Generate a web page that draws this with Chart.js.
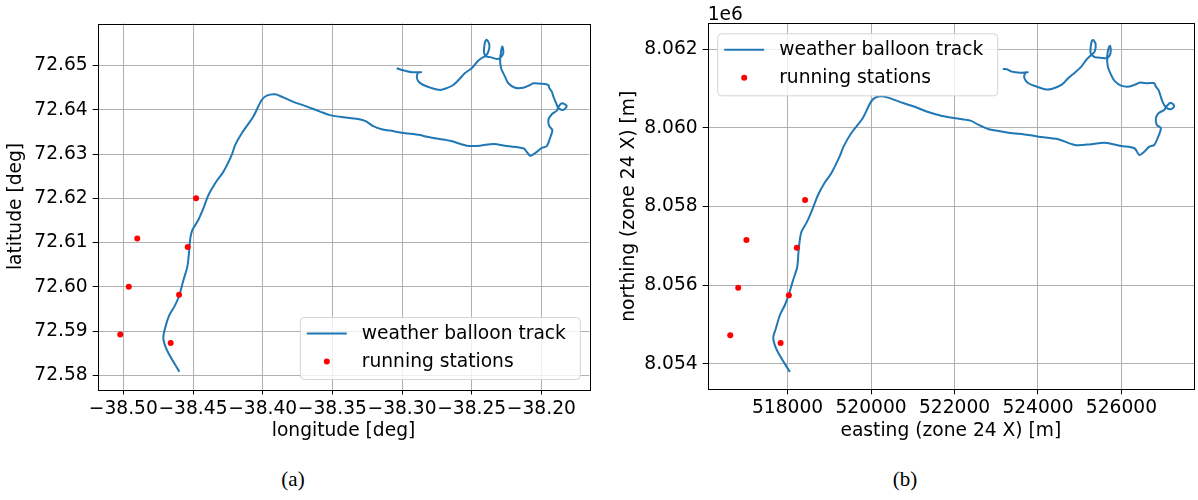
<!DOCTYPE html>
<html>
<head>
<meta charset="utf-8">
<script src="https://cdn.jsdelivr.net/npm/chart.js@4.4.1/dist/chart.umd.min.js"></script>
<style>
  body { margin: 0; background: #fff; width: 1198px; height: 500px; position: relative; overflow: hidden; }
  .panel { position: absolute; top: 0; width: 599px; height: 460px; }
  .cap { position: absolute; top: 467px; width: 60px; text-align: center; font-family: "Liberation Serif", "DejaVu Serif", serif; font-size: 21px; color: #000; }
</style>
</head>
<body>
<div class="panel" style="left:0"><canvas id="chartA"></canvas></div>
<div class="panel" style="left:599px"><canvas id="chartB"></canvas></div>
<div class="cap" style="left:263px">(a)</div>
<div class="cap" style="left:875px">(b)</div>

<script>
// ---------------- data, panel (a): lon / lat in degrees ---------------- //
var trackLon = [-38.4598,-38.4684,-38.4713,-38.4701,-38.4670,-38.4629,-38.4598,-38.4569,-38.4541,-38.4528,
  -38.4521,-38.4505,-38.4462,-38.4426,-38.4390,-38.4335,-38.4282,-38.4222,-38.4198,-38.4150,
  -38.4067,-38.4007,-38.3971,-38.3911,-38.3852,-38.3780,-38.3696,-38.3588,-38.3517,-38.3421,
  -38.3325,-38.3265,-38.3206,-38.3145,-38.3086,-38.3002,-38.2871,-38.2822,-38.2655,-38.2535,
  -38.2440,-38.2344,-38.2248,-38.2129,-38.2098,-38.2076,-38.2033,-38.1997,-38.1961,-38.1938,
  -38.1921,-38.1943,-38.1950,-38.1925,-38.1889,-38.1878,-38.1854,-38.1818,-38.1842,-38.1878,
  -38.1894,-38.1914,-38.1925,-38.1943,-38.1950,-38.1997,-38.2057,-38.2081,-38.2129,-38.2189,
  -38.2237,-38.2261,-38.2289,-38.2296,-38.2289,-38.2280,-38.2273,-38.2296,-38.2320,-38.2368,
  -38.2392,-38.2411,-38.2404,-38.2392,-38.2373,-38.2380,-38.2399,-38.2428,-38.2459,-38.2500,
  -38.2548,-38.2589,-38.2632,-38.2679,-38.2727,-38.2787,-38.2847,-38.2883,-38.2894,-38.2883,
  -38.2863,-38.2930,-38.3002,-38.3038];
var trackLat = [72.5808,72.5855,72.5883,72.5906,72.5936,72.5958,72.5981,72.6015,72.6045,72.6079,
  72.6106,72.6128,72.6151,72.6177,72.6207,72.6237,72.6260,72.6298,72.6320,72.6347,
  72.6385,72.6422,72.6432,72.6435,72.6428,72.6418,72.6409,72.6396,72.6388,72.6383,
  72.6380,72.6375,72.6363,72.6356,72.6353,72.6348,72.6343,72.6339,72.6330,72.6319,
  72.6319,72.6323,72.6318,72.6313,72.6302,72.6296,72.6305,72.6314,72.6318,72.6336,
  72.6354,72.6363,72.6377,72.6390,72.6398,72.6406,72.6415,72.6409,72.6400,72.6404,
  72.6415,72.6430,72.6441,72.6449,72.6456,72.6459,72.6460,72.6456,72.6450,72.6450,
  72.6460,72.6475,72.6494,72.6513,72.6532,72.6543,72.6528,72.6517,72.6515,72.6519,
  72.6520,72.6528,72.6554,72.6558,72.6547,72.6532,72.6522,72.6517,72.6509,72.6494,
  72.6483,72.6469,72.6456,72.6449,72.6445,72.6449,72.6456,72.6464,72.6475,72.6484,
  72.6485,72.6485,72.6490,72.6494];
var stationLon = [-38.4478,-38.4900,-38.4538,-38.4961,-38.4600,-38.5022,-38.4660];
var stationLat = [72.6200,72.6109,72.6090,72.6000,72.5982,72.5892,72.5873];

var lonTicks = [-38.50,-38.45,-38.40,-38.35,-38.30,-38.25,-38.20];
var latTicks = [72.58,72.59,72.60,72.61,72.62,72.63,72.64,72.65];

// ---------------- data, panel (b): UTM zone 24 X in metres ---------------- //
var trackEast = [518055,517752,517657,517721,517817,517936,518038,518133,518229,518262,
  518293,518333,518467,518595,518729,518888,519048,519245,519341,519524,
  519800,520000,520119,520317,520674,520991,521388,521705,522024,522381,
  522579,522817,523055,523293,523769,524007,524484,524881,525276,525595,
  525991,526310,526429,526548,526667,526786,526865,526943,526848,526824,
  526888,527024,527086,527181,527262,527181,527062,526983,526929,526888,
  526824,526786,526626,526429,526348,526191,525991,525833,525753,525674,
  525657,525691,525729,525738,525674,525595,525436,525357,525262,525276,
  525317,525381,525357,525276,525157,525038,524881,524722,524562,524324,
  524167,523967,523769,523674,523691,523752,523572,523372,523253,523157];
var trackNorth = [8053789,8054331,8054646,8054901,8055239,8055494,8055792,8056130,8056453,8056850,
  8057148,8057359,8057614,8057929,8058293,8058606,8058846,8059268,8059523,8059864,
  8060245,8060668,8060780,8060795,8060668,8060558,8060398,8060304,8060245,8060184,
  8060075,8059965,8059922,8059879,8059820,8059777,8059711,8059566,8059584,8059624,
  8059541,8059482,8059311,8059395,8059523,8059566,8059736,8059991,8060075,8060245,
  8060373,8060457,8060558,8060642,8060558,8060474,8060525,8060668,8060838,8060966,
  8061050,8061136,8061136,8061151,8061111,8061050,8061075,8061195,8061347,8061559,
  8061813,8062027,8062086,8061900,8061788,8061772,8061788,8061798,8061900,8062154,
  8062238,8062136,8061940,8061856,8061729,8061559,8061406,8061263,8061093,8060991,
  8060984,8061050,8061136,8061263,8061391,8061416,8061406,8061431,8061492,8061500];
var stationEast = [518419,517014,518221,516817,518031,516626,517833];
var stationNorth = [8058166,8057148,8056952,8055934,8055741,8054723,8054527];

var eastTicks = [518000,520000,522000,524000,526000];
var northTicks = [8054000,8056000,8058000,8060000,8062000];

var trackLabel = "weather balloon track";
var stationLabel = "running stations";

// ---------------- helpers ---------------- //
var FONT = "'DejaVu Sans', sans-serif";
var FSIZE = 18.67;   // 14pt
var trackColor = '#1f77b4';
var stationColor = '#ff0000';

function toPoints(xs, ys) {
  var pts = [];
  for (var i = 0; i < xs.length; i++) {
    pts.push({x: xs[i], y: ys[i]});
  }
  return pts;
}

function fixedTicks(list) {       // put ticks exactly where matplotlib had them
  return function(scale) {
    scale.ticks = list.map(function(v) { return {value: v}; });
  };
}

function fixedSize(prop, size) {
  return function(scale) { scale[prop] = size; };
}

// axes frame, in-axes legend and offset text
var framePlugin = {
  id: 'frame',
  afterDraw: function(chart, args, opts) {
    var ctx = chart.ctx;
    var a = chart.chartArea;
    ctx.save();
    ctx.strokeStyle = '#000';
    ctx.lineWidth = 1;
    ctx.strokeRect(Math.round(a.left) + 0.5, Math.round(a.top) + 0.5,
      Math.round(a.right - a.left), Math.round(a.bottom - a.top));

    // legend box
    var w = 280, h = 62;
    var bx = opts.corner == 'br' ? a.right - 9.5 - w : a.left + 9.5;
    var by = opts.corner == 'br' ? a.bottom - 10.5 - h : a.top + 10;
    ctx.beginPath();
    ctx.roundRect(bx + 0.5, by + 0.5, w, h, 4);
    ctx.fillStyle = 'rgba(255,255,255,0.8)';
    ctx.fill();
    ctx.strokeStyle = '#d4d4d4';
    ctx.stroke();

    var sets = chart.data.datasets;
    ctx.font = FSIZE + 'px ' + FONT;
    ctx.textBaseline = 'middle';
    ctx.fillStyle = '#000';
    // row 1: line sample
    ctx.beginPath();
    ctx.moveTo(bx + 7, by + 16.5);
    ctx.lineTo(bx + 47, by + 16.5);
    ctx.strokeStyle = sets[1].borderColor;
    ctx.lineWidth = 2;
    ctx.stroke();
    ctx.fillText(sets[1].label, bx + 62, by + 17);
    // row 2: dot sample
    ctx.beginPath();
    ctx.arc(bx + 27, by + 44.5, 3, 0, Math.PI * 2);
    ctx.fillStyle = sets[0].backgroundColor;
    ctx.fill();
    ctx.fillStyle = '#000';
    ctx.fillText(sets[0].label, bx + 62, by + 45);

    if (opts.offsetText) {
      ctx.textBaseline = 'alphabetic';
      ctx.textAlign = 'left';
      ctx.fillText(opts.offsetText, a.left, a.top - 3.5);
    }
    ctx.restore();
  }
};

function makeChart(id, cfg) {
  var ctx = document.getElementById(id).getContext('2d');
  return new Chart(ctx, {
    type: 'scatter',
    data: {
      datasets: [
        {
          label: stationLabel,
          data: toPoints(cfg.sx, cfg.sy),
          backgroundColor: stationColor,
          borderColor: stationColor,
          pointRadius: 3,
          pointBorderWidth: 0,
          order: 0
        },
        {
          label: trackLabel,
          data: toPoints(cfg.tx, cfg.ty),
          showLine: true,
          borderColor: trackColor,
          backgroundColor: trackColor,
          borderWidth: 2,
          pointRadius: 0,
          tension: 0.3,
          order: 1
        }
      ]
    },
    options: {
      responsive: true,
      maintainAspectRatio: false,
      animation: false,
      events: [],
      layout: { padding: cfg.padding },
      plugins: {
        legend: { display: false },
        tooltip: { enabled: false },
        frame: { corner: cfg.corner, offsetText: cfg.offsetText }
      },
      scales: {
        x: {
          type: 'linear',
          min: cfg.xmin, max: cfg.xmax,
          afterBuildTicks: fixedTicks(cfg.xticks),
          afterFit: fixedSize('height', 60),
          grid: { color: '#b0b0b0', lineWidth: 1, tickColor: '#000', tickLength: 5, tickWidth: 1 },
          border: { display: false },
          ticks: {
            autoSkip: false, maxRotation: 0, padding: 3, color: '#000',
            font: { family: FONT, size: FSIZE },
            callback: cfg.xfmt
          },
          title: {
            display: true, text: cfg.xtitle, color: '#000',
            font: { family: FONT, size: FSIZE }, padding: { top: 0, bottom: 7 }
          }
        },
        y: {
          type: 'linear',
          min: cfg.ymin, max: cfg.ymax,
          afterBuildTicks: fixedTicks(cfg.yticks),
          afterFit: fixedSize('width', cfg.yw),
          grid: { color: '#b0b0b0', lineWidth: 1, tickColor: '#000', tickLength: 5, tickWidth: 1 },
          border: { display: false },
          ticks: {
            padding: 5, color: '#000',
            font: { family: FONT, size: FSIZE },
            callback: cfg.yfmt
          },
          title: {
            display: true, text: cfg.ytitle, color: '#000',
            font: { family: FONT, size: FSIZE }, padding: { top: cfg.ytpad, bottom: 0 }
          }
        }
      }
    },
    plugins: [framePlugin]
  });
}

Chart.defaults.font.family = FONT;

makeChart('chartA', {
  tx: trackLon, ty: trackLat, sx: stationLon, sy: stationLat,
  xmin: -38.5184, xmax: -38.1656, ymin: 72.5768, ymax: 72.6595,
  xticks: lonTicks, yticks: latTicks,
  xfmt: function(v) { return (v < 0 ? '\u2212' : '') + Math.abs(v).toFixed(2); },
  yfmt: function(v) { return v.toFixed(2); },
  xtitle: 'longitude [deg]', ytitle: 'latitude [deg]',
  yw: 97.7, ytpad: 5,
  padding: { left: 0, top: 23.5, right: 9.7, bottom: 10.5 },
  corner: 'br'
});

makeChart('chartB', {
  tx: trackEast, ty: trackNorth, sx: stationEast, sy: stationNorth,
  xmin: 516086, xmax: 527738, ymin: 8053349, ymax: 8062661,
  xticks: eastTicks, yticks: northTicks,
  xfmt: function(v) { return String(v); },
  yfmt: function(v) { return (v / 1e6).toFixed(3); },
  xtitle: 'easting (zone 24 X) [m]', ytitle: 'northing (zone 24 X) [m]',
  yw: 108.7, ytpad: 19,
  padding: { left: 0, top: 23.3, right: 1, bottom: 10.7 },
  corner: 'tl', offsetText: '1e6'
});
</script>
</body>
</html>
